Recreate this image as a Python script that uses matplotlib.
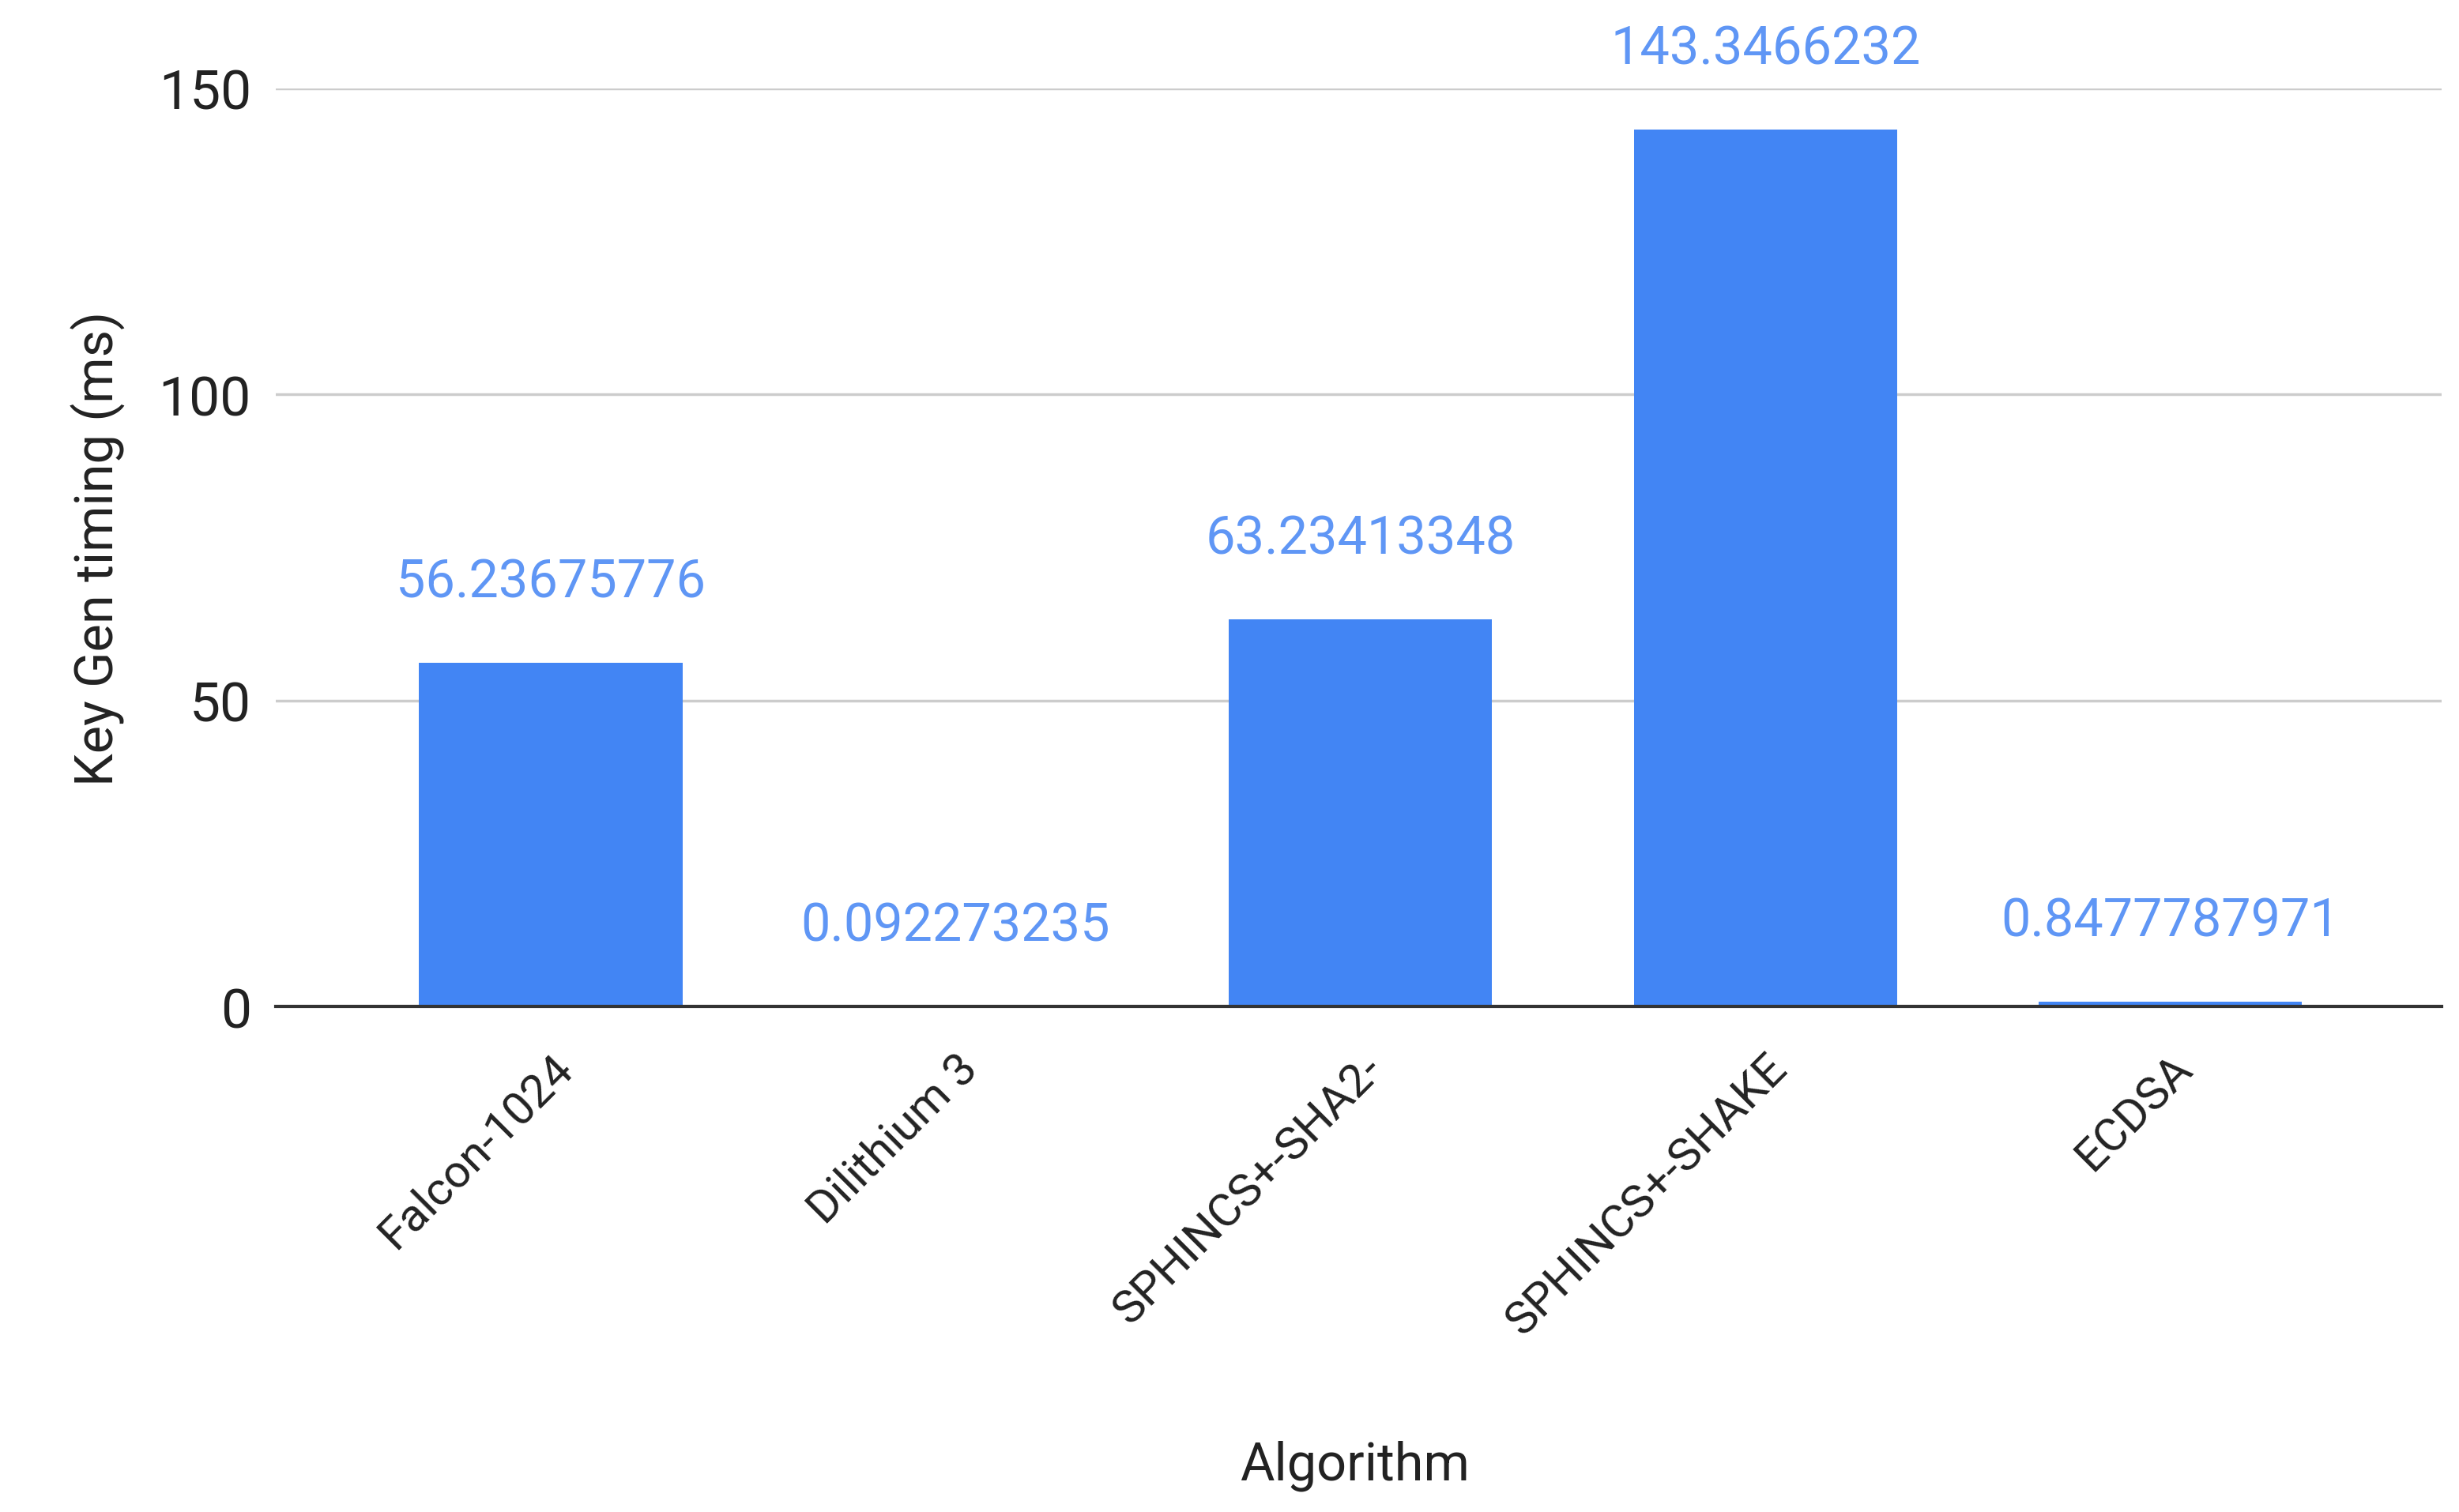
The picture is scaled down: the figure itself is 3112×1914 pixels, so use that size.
import matplotlib.pyplot as plt

algorithms = ["Falcon-1024", "Dilithium 3", "SPHINCS+-SHA2-", "SPHINCS+-SHAKE", "ECDSA"]
keygen_ms = [56.23675776, 0.092273235, 63.23413348, 143.3466232, 0.8477787971]
value_labels = ["56.23675776", "0.092273235", "63.23413348", "143.3466232", "0.8477787971"]
y_ticks = [0, 50, 100, 150]

plt.rcParams['font.family'] = ['Roboto', 'DejaVu Sans']

fig = plt.figure(figsize=(31.12, 19.15), dpi=100)
ax = fig.add_axes([0.112, 0.334, 0.881, 0.607])

x = range(len(algorithms))
ax.bar(x, keygen_ms, width=0.65, color="#4285F4", zorder=3)

for xi, v, lab in zip(x, keygen_ms, value_labels):
    ax.annotate(lab, (xi, v), xytext=(0, 50), textcoords="offset points",
                ha="center", va="bottom", fontsize=48, color="#5f96f5",
                annotation_clip=False)

ax.set_xlim(-0.68, 4.67)
ax.set_ylim(0, 150)
ax.set_yticks(y_ticks)
ax.tick_params(axis="y", length=0, labelsize=50, pad=22, labelcolor="#222222")
ax.grid(axis="y", color="#cccccc", linewidth=2.5, zorder=0)

ax.set_xticks(list(x))
ax.set_xticklabels(algorithms, rotation=45, ha="right", rotation_mode="anchor",
                   fontsize=42, color="#222222")
ax.tick_params(axis="x", length=0, pad=36)

for s in ["top", "right", "left"]:
    ax.spines[s].set_visible(False)
ax.spines["bottom"].set_color("#333333")
ax.spines["bottom"].set_linewidth(3)
ax.spines["bottom"].set_zorder(4)

ax.set_ylabel("Key Gen timing (ms)", fontsize=48, color="#222222", labelpad=30)
fig.text(0.551, 0.031, "Algorithm", ha="center", va="center", fontsize=48, color="#222222")

fig.savefig("out.png", dpi=100, facecolor="white")
